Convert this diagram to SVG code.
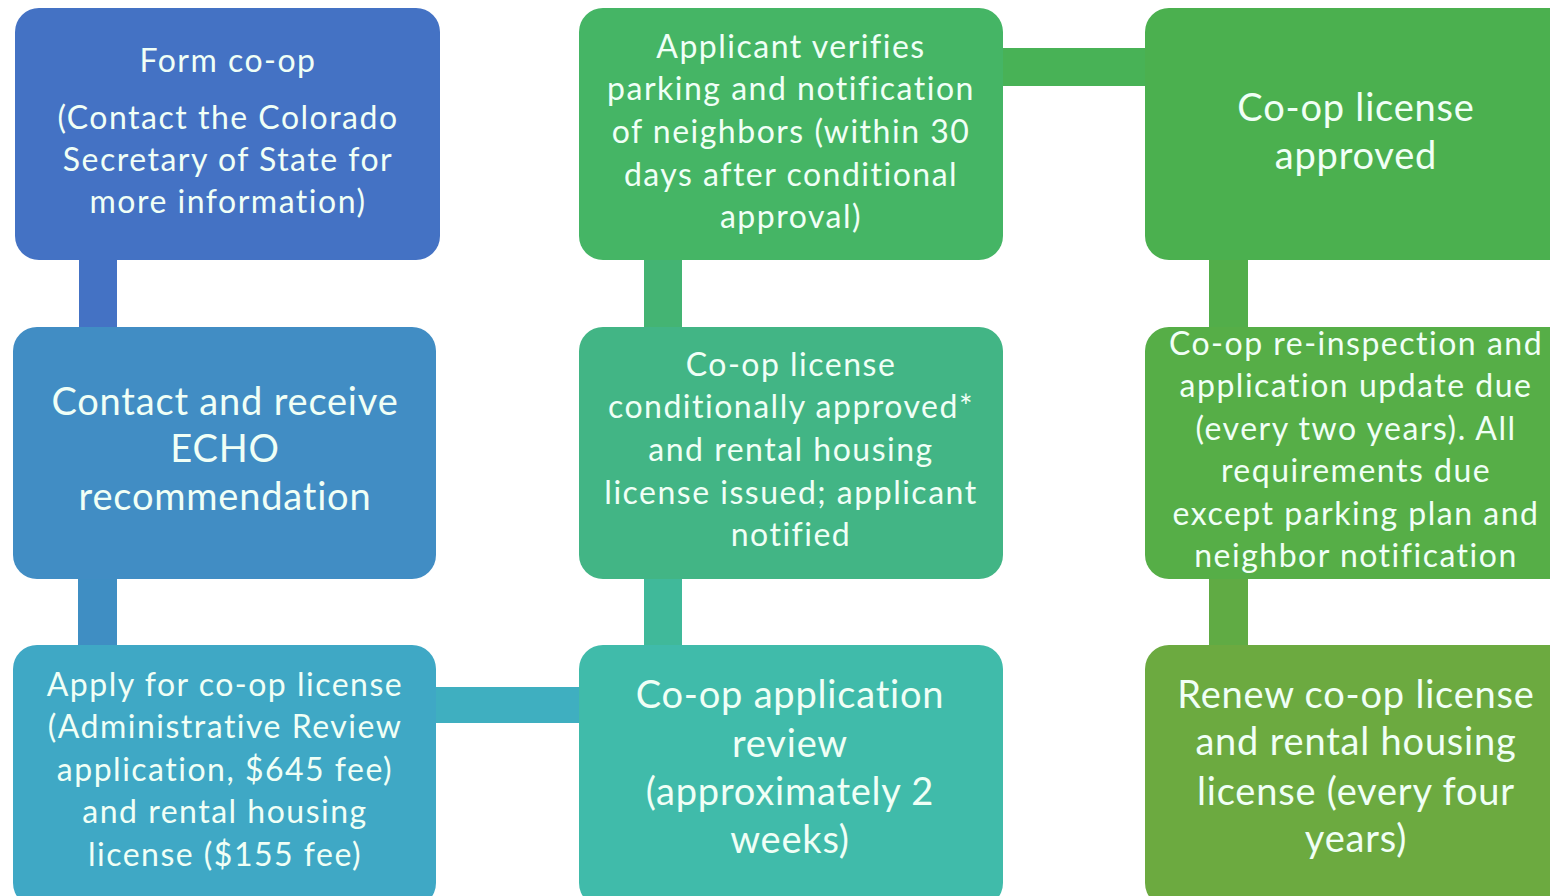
<svg xmlns="http://www.w3.org/2000/svg" width="1550" height="896" viewBox="0 0 1550 896">
<style>
  text { font-family: Lato, "Open Sans", "Liberation Sans", sans-serif; fill: #F0FFF6; text-anchor: middle; }
  .s { font-size: 32px; letter-spacing: 1.5px; }
  .l { font-size: 38px; letter-spacing: 0.8px; }
</style>
<rect x="0" y="0" width="1550" height="896" fill="#FFFFFF"/>
<g id="connectors">
  <rect x="79" y="258" width="38" height="70" fill="#4472C4"/>
  <rect x="78" y="577" width="39" height="70" fill="#3F8EC3"/>
  <rect x="434" y="687" width="148" height="36" fill="#3FAFC0"/>
  <rect x="644" y="577" width="38" height="70" fill="#40B99A"/>
  <rect x="644" y="258" width="38" height="70" fill="#44B473"/>
  <rect x="1000" y="48" width="148" height="38" fill="#48B256"/>
  <rect x="1209" y="258" width="39" height="70" fill="#52AE4A"/>
  <rect x="1209" y="577" width="39" height="70" fill="#60AB44"/>
</g>
<g id="n1">
  <rect x="15" y="8" width="425" height="252" rx="24" fill="#4472C4"/>
  <text class="s" x="228" y="72">Form co-op</text>
  <text class="s" x="228" y="129">(Contact the Colorado</text>
  <text class="s" x="228" y="171">Secretary of State for</text>
  <text class="s" x="228" y="213">more information)</text>
</g>
<g id="n2">
  <rect x="13" y="327" width="423" height="252" rx="24" fill="#418DC4"/>
  <text class="l" x="225" y="415">Contact and receive</text>
  <text class="l" x="225" y="462">ECHO</text>
  <text class="l" x="225" y="510">recommendation</text>
</g>
<g id="n3">
  <rect x="13" y="645" width="423" height="262" rx="24" fill="#3FA8C5"/>
  <text class="s" x="225" y="696">Apply for co-op license</text>
  <text class="s" x="225" y="738">(Administrative Review</text>
  <text class="s" x="225" y="781">application, $645 fee)</text>
  <text class="s" x="225" y="823">and rental housing</text>
  <text class="s" x="225" y="866">license ($155 fee)</text>
</g>
<g id="n4">
  <rect x="579" y="8" width="424" height="252" rx="24" fill="#45B565"/>
  <text class="s" x="791" y="58">Applicant verifies</text>
  <text class="s" x="791" y="100">parking and notification</text>
  <text class="s" x="791" y="143">of neighbors (within 30</text>
  <text class="s" x="791" y="186">days after conditional</text>
  <text class="s" x="791" y="228">approval)</text>
</g>
<g id="n5">
  <rect x="579" y="327" width="424" height="252" rx="24" fill="#42B585"/>
  <text class="s" x="791" y="376">Co-op license</text>
  <text class="s" x="791" y="418">conditionally approved*</text>
  <text class="s" x="791" y="461">and rental housing</text>
  <text class="s" x="791" y="504">license issued; applicant</text>
  <text class="s" x="791" y="546">notified</text>
</g>
<g id="n6">
  <rect x="579" y="645" width="424" height="262" rx="24" fill="#40BBAA"/>
  <text class="l" x="790" y="708">Co-op application</text>
  <text class="l" x="790" y="757">review</text>
  <text class="l" x="790" y="805">(approximately 2</text>
  <text class="l" x="790" y="853">weeks)</text>
</g>
<g id="n7">
  <rect x="1145" y="8" width="440" height="252" rx="24" fill="#4BB04F"/>
  <text class="l" x="1356" y="121">Co-op license</text>
  <text class="l" x="1356" y="169">approved</text>
</g>
<g id="n8">
  <rect x="1145" y="327" width="440" height="252" rx="24" fill="#56AE47"/>
  <text class="s" x="1356" y="355">Co-op re-inspection and</text>
  <text class="s" x="1356" y="397">application update due</text>
  <text class="s" x="1356" y="440">(every two years). All</text>
  <text class="s" x="1356" y="482">requirements due</text>
  <text class="s" x="1356" y="525">except parking plan and</text>
  <text class="s" x="1356" y="567">neighbor notification</text>
</g>
<g id="n9">
  <rect x="1145" y="645" width="440" height="262" rx="24" fill="#6CAA40"/>
  <text class="l" x="1356" y="708">Renew co-op license</text>
  <text class="l" x="1356" y="755">and rental housing</text>
  <text class="l" x="1356" y="805">license (every four</text>
  <text class="l" x="1356" y="852">years)</text>
</g>
</svg>
